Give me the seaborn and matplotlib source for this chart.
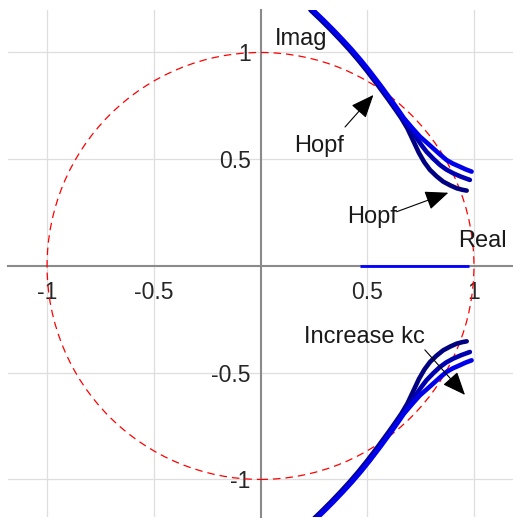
import numpy as np
import pandas as pd
import matplotlib
matplotlib.use("Agg")
import matplotlib.pyplot as plt
from matplotlib.patches import Circle
import seaborn as sns

# ---- data ----
# upper-half eigenvalue loci for three kc values (lower half is the conjugate)
re_kc1 = [0.234, 0.282, 0.330, 0.373, 0.417, 0.459, 0.500, 0.551, 0.600, 0.636, 0.660,
          0.688, 0.714, 0.742, 0.768, 0.794, 0.825, 0.856, 0.890, 0.919, 0.945, 0.966]
im_kc1 = [1.199, 1.153, 1.105, 1.060, 1.012, 0.963, 0.912, 0.845, 0.778, 0.727, 0.692,
          0.645, 0.590, 0.530, 0.485, 0.450, 0.420, 0.395, 0.377, 0.364, 0.357, 0.353]
re_kc2 = [0.240, 0.288, 0.336, 0.379, 0.423, 0.465, 0.506, 0.557, 0.606, 0.642, 0.666,
          0.700, 0.732, 0.755, 0.778, 0.810, 0.841, 0.870, 0.903, 0.940, 0.981]
im_kc2 = [1.199, 1.153, 1.105, 1.060, 1.012, 0.963, 0.912, 0.845, 0.778, 0.727, 0.692,
          0.645, 0.598, 0.565, 0.535, 0.502, 0.473, 0.452, 0.434, 0.418, 0.403]
re_kc3 = [0.246, 0.294, 0.342, 0.385, 0.429, 0.471, 0.512, 0.563, 0.612, 0.648, 0.672,
          0.712, 0.747, 0.780, 0.809, 0.840, 0.872, 0.900, 0.934, 0.960, 0.989]
im_kc3 = [1.199, 1.153, 1.105, 1.060, 1.012, 0.963, 0.912, 0.845, 0.778, 0.727, 0.692,
          0.645, 0.606, 0.577, 0.551, 0.523, 0.496, 0.480, 0.465, 0.453, 0.442]
kc_names = ["kc1", "kc2", "kc3"]
kc_colors = ["#000080", "#0000b0", "#0000ea"]
# real eigenvalues on the real axis
real_re = [0.466, 0.978]
real_im = [0.0, 0.0]

xticks = [-1, -0.5, 0.5, 1]
yticks = [-1, -0.5, 0.5, 1]
xticklabels = ["-1", "-0.5", "0.5", "1"]
yticklabels = ["-1", "-0.5", "0.5", "1"]

rows = []
for name, rr, ii in zip(kc_names, [re_kc1, re_kc2, re_kc3], [im_kc1, im_kc2, im_kc3]):
    for r, i in zip(rr, ii):
        rows.append(dict(re=r, im=i, kc=name, branch="upper"))
    for r, i in zip(rr, ii):
        rows.append(dict(re=r, im=-i, kc=name, branch="lower"))
df = pd.DataFrame(rows)

sns.set_style("white")
plt.rcParams["font.family"] = ["Liberation Sans", "DejaVu Sans"]
plt.rcParams["axes.unicode_minus"] = False

fig = plt.figure(figsize=(5.13, 5.18), dpi=100)
ax = fig.add_axes([8 / 513, 1 / 518, 505 / 513, 507 / 518])
ax.set_xlim(-1.183, 1.183)
ax.set_ylim(-1.176, 1.199)

# grid
ax.set_xticks(xticks)
ax.set_yticks(yticks)
ax.set_xticklabels(xticklabels)
ax.set_yticklabels(yticklabels)
ax.grid(True, color="#dedede", lw=0.9, zorder=0)
ax.set_axisbelow(True)

# spines through origin
for s in ["top", "right"]:
    ax.spines[s].set_visible(False)
for s in ["left", "bottom"]:
    ax.spines[s].set_position(("data", 0))
    ax.spines[s].set_color("#8a8a8a")
    ax.spines[s].set_linewidth(1.5)
    ax.spines[s].set_zorder(1)
ax.tick_params(axis="both", direction="in", length=3, width=1, color="#8a8a8a",
               labelsize=16.5, labelcolor="#262626")
ax.tick_params(axis="x", pad=11)
ax.tick_params(axis="y", pad=7)

# unit circle
ax.add_patch(Circle((0, 0), 1, fill=False, ls=(0, (6, 4)), color="red", lw=0.9, zorder=2))

# loci
sns.lineplot(data=df, x="re", y="im", hue="kc", units="branch", estimator=None, sort=False,
             palette=dict(zip(kc_names, kc_colors)), hue_order=kc_names, lw=3.3,
             legend=False, ax=ax, zorder=3, solid_capstyle="round", solid_joinstyle="round")
ax.plot(real_re, real_im, color="#0000ff", lw=2.0, zorder=3, solid_capstyle="butt")
ax.set_xlabel("")
ax.set_ylabel("")

# texts
tc = "#1a1a1a"
ax.text(0.192, 1.035, "Imag", fontsize=17, ha="center", va="baseline", color=tc)
ax.text(1.040, 0.090, "Real", fontsize=17, ha="center", va="baseline", color=tc)
ax.text(0.274, 0.535, "Hopf", fontsize=17, ha="center", va="baseline", color=tc)
ax.text(0.525, 0.203, "Hopf", fontsize=17, ha="center", va="baseline", color=tc)
ax.text(0.486, -0.362, "Increase kc", fontsize=17, ha="center", va="baseline", color=tc)

ap = dict(arrowstyle="-|>,head_length=1.2,head_width=0.5", lw=0.8, color="black",
          shrinkA=0, shrinkB=0, mutation_scale=12)
ax.annotate("", xy=(0.529, 0.801), xytext=(0.396, 0.651), arrowprops=ap, zorder=5)
ax.annotate("", xy=(0.880, 0.343), xytext=(0.638, 0.254), arrowprops=ap, zorder=5)
ax.annotate("", xy=(0.958, -0.604), xytext=(0.770, -0.393), arrowprops=ap, zorder=5)

fig.savefig("out.png", dpi=100)
